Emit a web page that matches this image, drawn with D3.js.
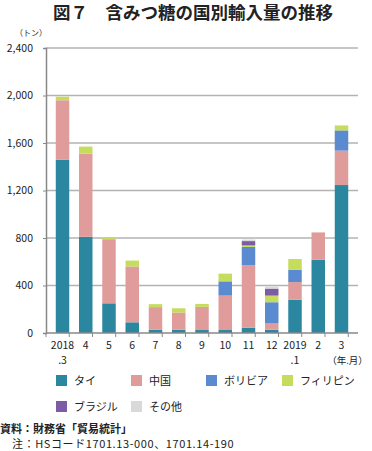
<!DOCTYPE html>
<html>
<head>
<meta charset="utf-8">
<script src="https://cdnjs.cloudflare.com/ajax/libs/d3/7.8.5/d3.min.js"></script>
<style>
  body { margin: 0; background: #fff; }
  text { font-family: "Noto Sans CJK JP", "Noto Sans", sans-serif; fill: #222; }
</style>
</head>
<body>
<svg id="chart" width="372" height="451"></svg>
<script>
// months, 2018.3 - 2019.3
const months = ['2018', '4', '5', '6', '7', '8', '9', '10', '11', '12', '2019', '2', '3']
const subLabels = ['.3', '', '', '', '', '', '', '', '', '', '.1', '', '']
const seriesNames = ['タイ', '中国', 'ボリビア', 'フィリピン', 'ブラジル', 'その他']
const colors = ['#2b87a0', '#e09c9b', '#5a8ad0', '#c6dc5c', '#7d5ca6', '#d9d9d9']

// tons
const thai = [1460, 810, 250, 90, 28, 28, 25, 25, 45, 28, 281, 617, 1246]
const china = [500, 700, 540, 470, 190, 145, 195, 290, 525, 56, 148, 230, 290]
const bolivia = [0, 0, 0, 0, 0, 0, 0, 120, 155, 175, 104, 0, 170]
const philippines = [30, 60, 10, 50, 25, 35, 25, 65, 12, 56, 90, 0, 42]
const brazil = [0, 0, 0, 0, 0, 0, 0, 0, 37, 59, 0, 0, 0]
const others = [0, 0, 0, 0, 0, 0, 0, 0, 13, 17, 0, 0, 0]
const yTicks = [0, 400, 800, 1200, 1600, 2000, 2400]

const svg = d3.select('#chart')
const margin = {top: 48, left: 46, right: 14, bottom: 118}
const width = 372 - margin.left - margin.right
const height = 451 - margin.top - margin.bottom

svg.append('text')
  .attr('x', 193).attr('y', 19)
  .attr('text-anchor', 'middle')
  .style('font-size', '17.5px').style('font-weight', 'bold')
  .text('図７　含みつ糖の国別輸入量の推移')

svg.append('text')
  .attr('x', 15).attr('y', 36)
  .style('font-size', '8px')
  .text('（トン）')

const g = svg.append('g').attr('transform', 'translate(' + margin.left + ',' + margin.top + ')')

const x = d3.scaleBand()
  .domain(months.map((m, i) => i))
  .range([0, width])
  .padding(0.42)

const y = d3.scaleLinear()
  .domain([0, 2400])
  .range([height, 0])

// gridlines
g.selectAll('.grid')
  .data(yTicks.filter(d => d > 0))
  .enter().append('line')
  .attr('x1', 0).attr('x2', width)
  .attr('y1', d => y(d)).attr('y2', d => y(d))
  .attr('stroke', '#b3b3b3').attr('stroke-width', 1.5)

const table = months.map((m, i) => [thai[i], china[i], bolivia[i], philippines[i], brazil[i], others[i]])
const stacked = d3.stack().keys(d3.range(seriesNames.length))(table)

g.selectAll('.series')
  .data(stacked)
  .enter().append('g')
  .attr('fill', (d, i) => colors[i])
  .selectAll('rect')
  .data(d => d)
  .enter().append('rect')
  .attr('x', (d, i) => x(i))
  .attr('width', x.bandwidth())
  .attr('y', d => y(d[1]))
  .attr('height', d => y(d[0]) - y(d[1]))

// y axis
const yAxis = g.append('g')
  .call(d3.axisLeft(y).tickValues(yTicks).tickFormat(d3.format(',')).tickSize(3).tickPadding(10))
yAxis.select('.domain').attr('stroke', '#888').attr('stroke-width', 1.5)
yAxis.selectAll('.tick line').attr('stroke', '#888')
yAxis.selectAll('text').style('font-size', '10.5px').attr('fill', '#222')

// x axis with ticks at band boundaries
const xAxisG = g.append('g').attr('transform', 'translate(0,' + height + ')')
xAxisG.append('line')
  .attr('x1', 0).attr('x2', width)
  .attr('stroke', '#888').attr('stroke-width', 1.5)
const step = x.step()
const x0 = x(0) - x.paddingOuter() * step
xAxisG.selectAll('.xtick')
  .data(d3.range(months.length + 1))
  .enter().append('line')
  .attr('x1', d => x0 + d * step)
  .attr('x2', d => x0 + d * step)
  .attr('y1', 0).attr('y2', 4)
  .attr('stroke', '#888')

xAxisG.selectAll('.xlab')
  .data(months)
  .enter().append('text')
  .attr('x', (d, i) => x(i) + x.bandwidth() / 2)
  .attr('y', 16)
  .attr('text-anchor', 'middle')
  .style('font-size', '10.5px')
  .text(d => d)

xAxisG.selectAll('.xsub')
  .data(subLabels)
  .enter().append('text')
  .attr('x', (d, i) => x(i) + x.bandwidth() / 2)
  .attr('y', 31)
  .attr('text-anchor', 'middle')
  .style('font-size', '10.5px')
  .text(d => d)

xAxisG.append('text')
  .attr('x', x(12) + x.bandwidth() / 2 + 6)
  .attr('y', 31)
  .attr('text-anchor', 'middle')
  .style('font-size', '9.5px')
  .text('（年.月）')

// legend
const legendPos = [[56, 381], [131, 381], [206, 381], [282, 381], [56, 407], [131, 407]]
const legend = svg.selectAll('.legend')
  .data(seriesNames)
  .enter().append('g')
  .attr('transform', (d, i) => 'translate(' + legendPos[i][0] + ',' + legendPos[i][1] + ')')
legend.append('rect')
  .attr('x', 0).attr('y', -6)
  .attr('width', 11).attr('height', 11)
  .attr('fill', (d, i) => colors[i])
legend.append('text')
  .attr('x', 18).attr('y', 4)
  .style('font-size', '11px')
  .text(d => d)

svg.append('text')
  .attr('x', 0).attr('y', 433)
  .style('font-size', '11px').style('font-weight', 'bold')
  .text('資料：財務省「貿易統計」')

svg.append('text')
  .attr('x', 12).attr('y', 448)
  .style('font-size', '11px')
  .style('letter-spacing', '0.6px')
  .text('注：HSコード1701.13-000、1701.14-190')
</script>
</body>
</html>
